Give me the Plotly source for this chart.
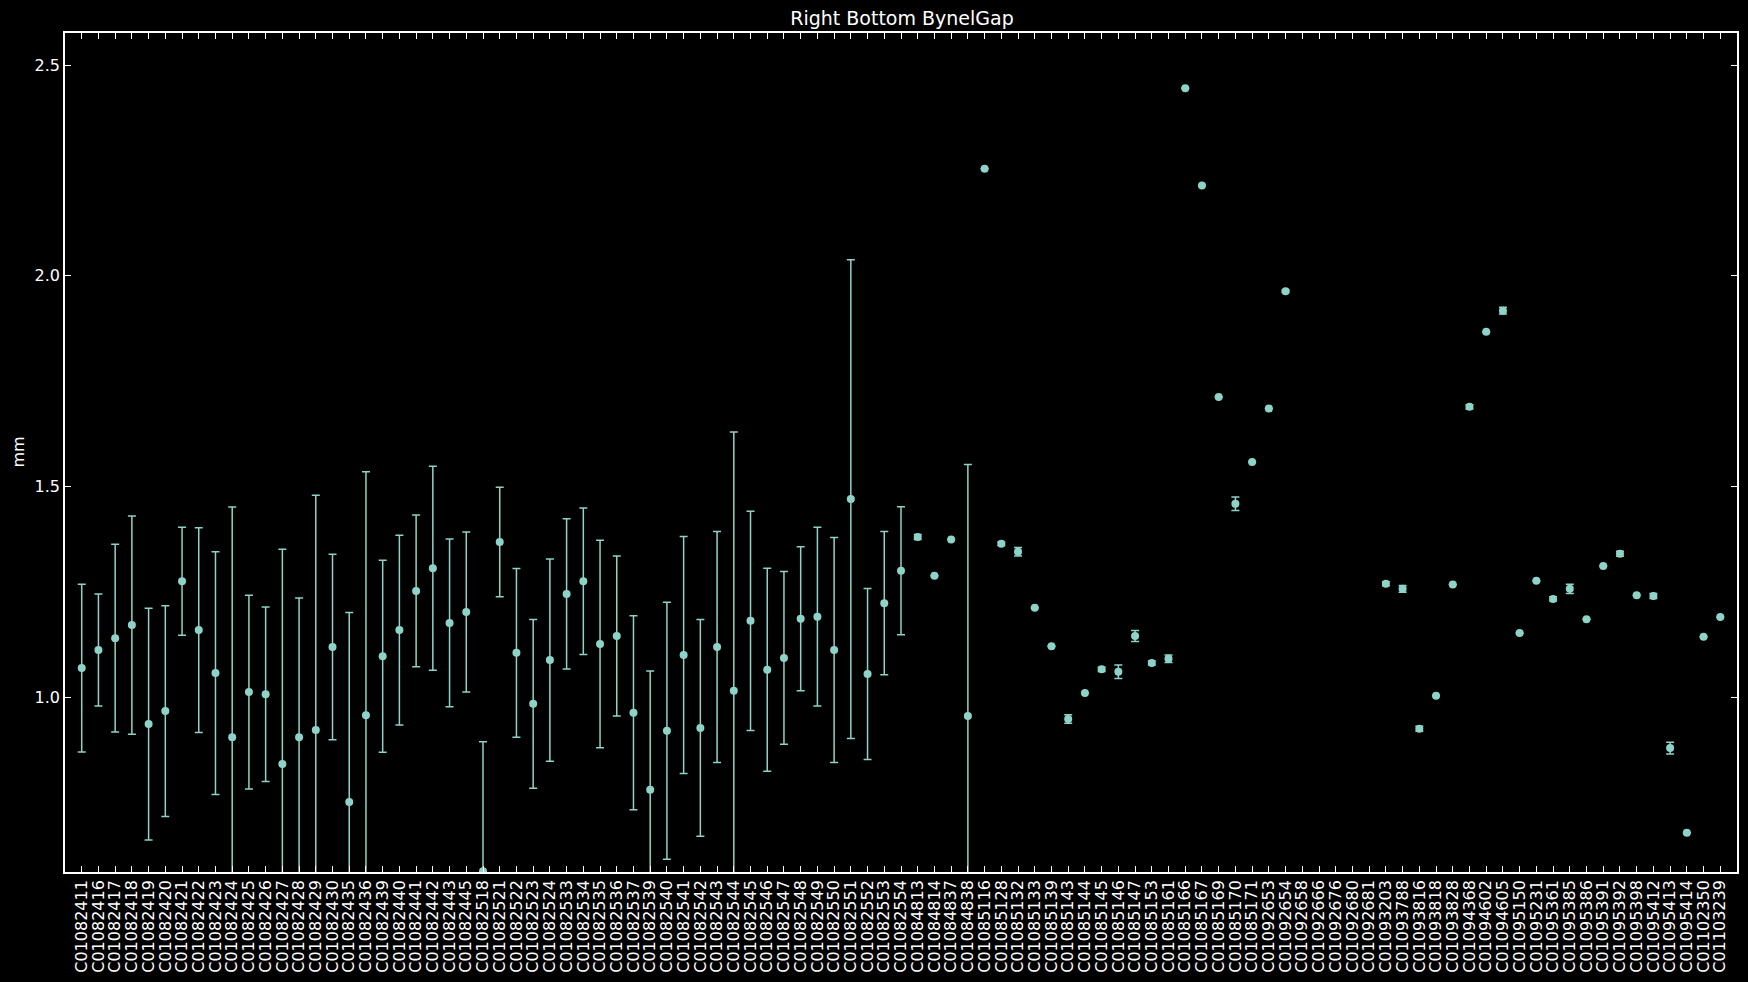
import plotly.graph_objects as go

categories = [
    "C01082411", "C01082416", "C01082417", "C01082418", "C01082419", "C01082420",
    "C01082421", "C01082422", "C01082423", "C01082424", "C01082425", "C01082426",
    "C01082427", "C01082428", "C01082429", "C01082430", "C01082435", "C01082436",
    "C01082439", "C01082440", "C01082441", "C01082442", "C01082443", "C01082445",
    "C01082518", "C01082521", "C01082522", "C01082523", "C01082524", "C01082533",
    "C01082534", "C01082535", "C01082536", "C01082537", "C01082539", "C01082540",
    "C01082541", "C01082542", "C01082543", "C01082544", "C01082545", "C01082546",
    "C01082547", "C01082548", "C01082549", "C01082550", "C01082551", "C01082552",
    "C01082553", "C01082554", "C01084813", "C01084814", "C01084837", "C01084838",
    "C01085116", "C01085128", "C01085132", "C01085133", "C01085139", "C01085143",
    "C01085144", "C01085145", "C01085146", "C01085147", "C01085153", "C01085161",
    "C01085166", "C01085167", "C01085169", "C01085170", "C01085171", "C01092653",
    "C01092654", "C01092658", "C01092666", "C01092676", "C01092680", "C01092681",
    "C01093203", "C01093788", "C01093816", "C01093818", "C01093828", "C01094368",
    "C01094602", "C01094605", "C01095150", "C01095231", "C01095361", "C01095385",
    "C01095386", "C01095391", "C01095392", "C01095398", "C01095412", "C01095413",
    "C01095414", "C01102350", "C01103239",
]

mean_values = [
    1.069, 1.112, 1.140, 1.171, 0.936, 0.967, 1.275, 1.159, 1.057, 0.905,
    1.012, 1.007, 0.841, 0.905, 0.922, 1.119, 0.751, 0.957, 1.097, 1.159,
    1.252, 1.306, 1.176, 1.202, 0.587, 1.368, 1.105, 0.984, 1.088, 1.245,
    1.275, 1.126, 1.145, 0.963, 0.780, 0.920, 1.100, 0.927, 1.119, 1.015,
    1.181, 1.065, 1.093, 1.186, 1.191, 1.112, 1.470, 1.055, 1.223, 1.300,
    1.380, 1.288, 1.374, 0.955, 2.254, 1.364, 1.345, 1.212, 1.121, 0.948,
    1.010, 1.066, 1.060, 1.145, 1.081, 1.091, 2.445, 2.214, 1.712, 1.459,
    1.558, 1.685, 1.963, None, None, None, None, None, 1.269, 1.257,
    0.925, 1.003, 1.267, 1.689, 1.867, 1.917, 1.152, 1.276, 1.233, 1.257,
    1.185, 1.311, 1.340, 1.242, 1.240, 0.879, 0.678, 1.143, 1.190,
]

error_values = [
    0.199, 0.133, 0.223, 0.259, 0.275, 0.250, 0.128, 0.243, 0.288, 0.546,
    0.230, 0.207, 0.510, 0.330, 0.557, 0.220, 0.450, 0.578, 0.228, 0.225,
    0.180, 0.242, 0.199, 0.190, 0.307, 0.130, 0.200, 0.200, 0.240, 0.178,
    0.174, 0.246, 0.190, 0.230, 0.282, 0.305, 0.281, 0.257, 0.274, 0.614,
    0.260, 0.241, 0.205, 0.171, 0.212, 0.267, 0.568, 0.203, 0.170, 0.152,
    0.006, 0.0, 0.0, 0.597, 0.0, 0.004, 0.010, 0.0, 0.0, 0.010,
    0.0, 0.005, 0.016, 0.013, 0.005, 0.009, 0.0, 0.0, 0.0, 0.016,
    0.0, 0.0, 0.003, None, None, None, None, None, 0.005, 0.008,
    0.006, 0.0, 0.0, 0.005, 0.0, 0.008, 0.0, 0.0, 0.005, 0.011,
    0.0, 0.0, 0.006, 0.0, 0.006, 0.014, 0.0, 0.0, 0.0,
]

y_ticks = [1.0, 1.5, 2.0, 2.5]

color = "#8dd3c7"
font_family = "DejaVu Sans"

fig = go.Figure()
fig.add_trace(go.Scatter(
    x=categories,
    y=mean_values,
    mode="markers",
    marker=dict(color=color, size=8, line=dict(width=0)),
    error_y=dict(type="data", array=error_values, symmetric=True,
                 color=color, thickness=1.5, width=4),
    showlegend=False,
))

axis_common = dict(
    showline=True, linecolor="white", linewidth=1.5, mirror="ticks",
    ticks="inside", tickcolor="white", ticklen=6, tickwidth=1,
    showgrid=False, zeroline=False,
    tickfont=dict(color="white", size=16, family=font_family),
)

fig.update_layout(
    width=1748, height=982,
    paper_bgcolor="black", plot_bgcolor="black",
    margin=dict(l=65, r=9, t=33, b=110),
    font=dict(family=font_family, color="white"),
    title=dict(text="Right Bottom BynelGap", x=0.5 * (65 + 1739) / 1748, xanchor="center",
               y=1 - 18 / 982, yanchor="middle", yref="container",
               font=dict(size=19, color="white", family=font_family)),
    xaxis=dict(type="category", categoryorder="array", categoryarray=categories,
               tickmode="array", tickvals=categories, ticktext=categories,
               range=[-1, len(categories)], tickangle=-90, **axis_common),
    yaxis=dict(range=[0.585, 2.576], tickvals=y_ticks,
               ticktext=[f"{v:.1f}" for v in y_ticks], **axis_common),
    annotations=[dict(text="mm", textangle=-90, xref="paper", yref="paper",
                      x=-(65 - 18) / 1674, y=0.5, xanchor="center", yanchor="middle",
                      showarrow=False, font=dict(size=16, color="white", family=font_family))],
)

fig.write_html("out.html")
